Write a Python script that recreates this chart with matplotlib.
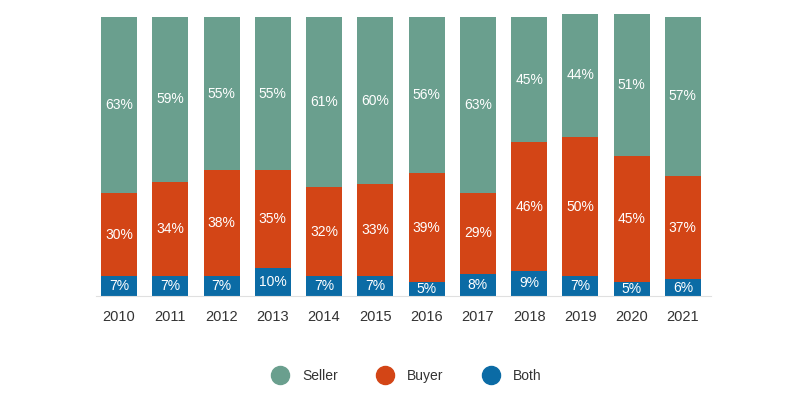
import matplotlib.pyplot as plt
import numpy as np
from matplotlib.lines import Line2D

years = ['2010', '2011', '2012', '2013', '2014', '2015', '2016', '2017', '2018', '2019', '2020', '2021']
both = [7, 7, 7, 10, 7, 7, 5, 8, 9, 7, 5, 6]
buyer = [30, 34, 38, 35, 32, 33, 39, 29, 46, 50, 45, 37]
seller = [63, 59, 55, 55, 61, 60, 56, 63, 45, 44, 51, 57]

c_seller = '#6a9f8e'
c_buyer = '#d34516'
c_both = '#0b6ba5'

plt.rcParams['font.family'] = ['Liberation Sans', 'DejaVu Sans']

fig = plt.figure(figsize=(8, 3.96), dpi=100)
ax = fig.add_axes([96/800, 100/396, 615/800, 282/396])

x = np.arange(len(years))
w = 0.7
b1 = ax.bar(x, both, w, color=c_both)
b2 = ax.bar(x, buyer, w, bottom=both, color=c_buyer)
bot3 = np.array(both) + np.array(buyer)
b3 = ax.bar(x, seller, w, bottom=bot3, color=c_seller)

for bars, vals in [(b1, both), (b2, buyer), (b3, seller)]:
    ax.bar_label(bars, labels=[f'{v}%' for v in vals], label_type='center',
                 color='white', fontsize=10)

ax.set_xlim(-0.45, 11.55)
ax.set_ylim(0, 101)
ax.set_xticks(x)
ax.set_xticklabels(years, fontsize=10.5, color='#333333')
ax.tick_params(axis='x', length=0, pad=10)
ax.set_yticks([])
for s in ['top', 'right', 'left']:
    ax.spines[s].set_visible(False)
ax.spines['bottom'].set_color('#e0e0e0')

handles = [Line2D([], [], marker='o', ls='none', ms=13, color=c) for c in (c_seller, c_buyer, c_both)]
fig.legend(handles, ['Seller', 'Buyer', 'Both'], loc='center', bbox_to_anchor=(0.505, 0.05),
           ncol=3, frameon=False, fontsize=10, columnspacing=2.4, handletextpad=0.6,
           labelcolor='#333333')

fig.savefig('out.png', dpi=100)
